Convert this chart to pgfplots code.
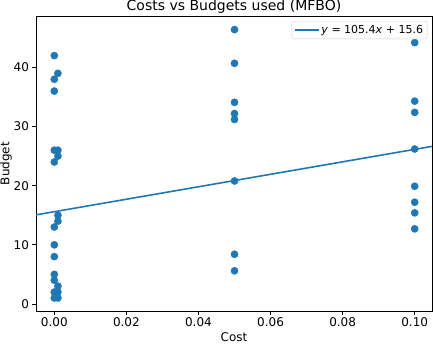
\documentclass[border=0pt]{standalone}
\usepackage{fontspec}
\setmainfont{DejaVu Sans}
\usepackage{pgfplots}
\pgfplotsset{compat=1.18}
\definecolor{mplblue}{HTML}{1F77B4}

\begin{document}
\begin{tikzpicture}
\begin{axis}[
    scale only axis,
    width=396pt, height=295pt,
    xmin=-0.00508, xmax=0.1048,
    ymin=-1.2, ymax=48.7,
    xtick={0,0.02,0.04,0.06,0.08,0.1},
    ytick={0,10,20,30,40},
    xticklabel style={/pgf/number format/.cd, fixed, fixed zerofill, precision=2},
    scaled x ticks=false,
    /pgf/number format/assume math mode=true,
    tick label style={font=\fontsize{12}{14}\selectfont},
    label style={font=\fontsize{12}{14}\selectfont},
    title style={font=\fontsize{14}{16}\selectfont, yshift=-6.5pt},
    title={Costs vs Budgets used (MFBO)},
    xlabel={Cost},
    ylabel={Budget},
    xlabel style={yshift=1pt},
    ylabel style={yshift=-5pt},
    tick align=outside,
    tick pos=left,
    major tick length=3.5pt,
    axis line style={line width=0.7pt},
    every tick/.style={black, line width=0.7pt},
    legend style={at={(rel axis cs:0.988,0.983)}, anchor=north east,
        draw=black!18, rounded corners=2pt, font=\fontsize{11}{13}\selectfont,
        inner sep=2pt, row sep=0pt},
    legend cell align=left,
    legend image code/.code={\draw[#1, line width=1.6pt] (0pt,0pt) -- (24pt,0pt);},
    clip=true,
]
\addplot[only marks, mark=*, mark size=3.6pt, color=mplblue, forget plot] coordinates {
    (0,42) (0,38) (0,36) (0,26) (0,24) (0,13) (0,10) (0,8) (0,5) (0,4) (0,2) (0,1)
    (0.001,39) (0.001,26) (0.001,25) (0.001,15) (0.001,14) (0.001,3) (0.001,2) (0.001,1)
    (0.05,46.4) (0.05,40.7) (0.05,34.1) (0.05,32.2) (0.05,31.2) (0.05,20.8) (0.05,8.4) (0.05,5.6)
    (0.1,44.2) (0.1,34.3) (0.1,32.4) (0.1,26.2) (0.1,19.9) (0.1,17.2) (0.1,15.4) (0.1,12.7)
};
\addplot[color=mplblue, line width=1.6pt, no marks] coordinates {
    (-0.00508,15.06) (0.1048,26.65)
};
\addlegendentry{\textit{y} = 105.4\textit{x} + 15.6}
\coordinate (bl) at (rel axis cs:0,0);
\coordinate (tr) at (rel axis cs:1,1);
\end{axis}
\pgfresetboundingbox
\path[use as bounding box] ([xshift=-36pt,yshift=-33pt]bl) rectangle ([xshift=2pt,yshift=16pt]tr);
\end{tikzpicture}
\end{document}
